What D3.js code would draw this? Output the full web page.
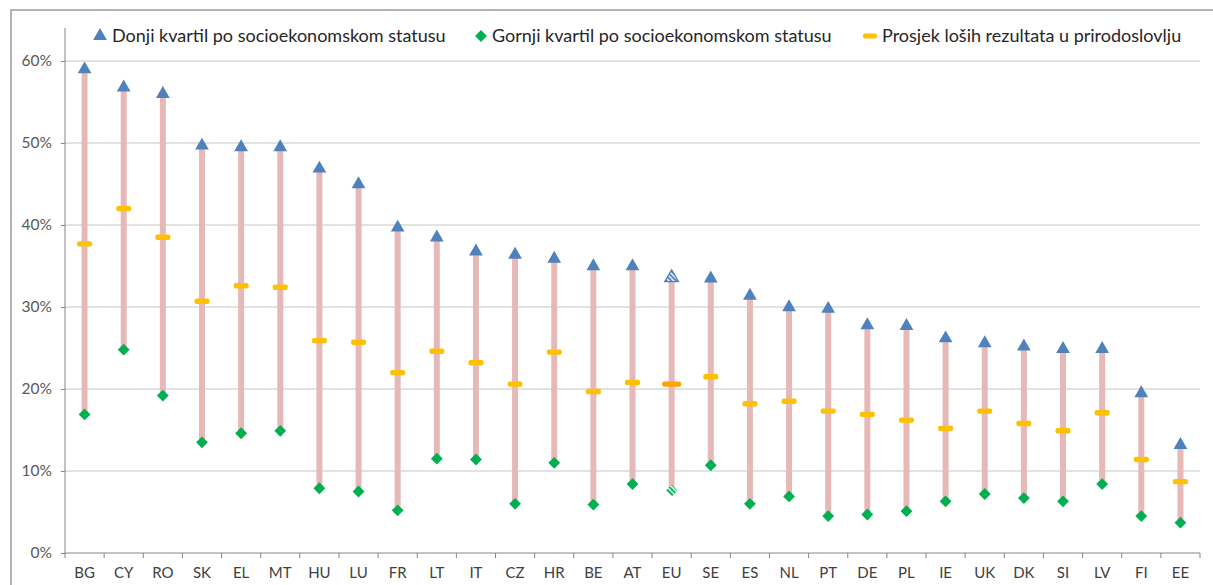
<!DOCTYPE html>
<html>
<head>
<meta charset="utf-8">
<script src="https://cdn.jsdelivr.net/npm/d3@7"></script>
<style>
  body { margin: 0; background: #fff; }
  svg { font-family: Lato, "Liberation Sans", sans-serif; }
</style>
</head>
<body>
<div class="chart"></div>
<script>
// countries, sorted as in the source
var countries = ["BG","CY","RO","SK","EL","MT","HU","LU","FR","LT","IT","CZ","HR","BE","AT","EU","SE","ES","NL","PT","DE","PL","IE","UK","DK","SI","LV","FI","EE"];
// Donji kvartil po socioekonomskom statusu (%)
var lowerQuartile = [59.1,56.9,56.1,49.8,49.6,49.6,47.0,45.1,39.8,38.6,36.9,36.5,36.0,35.1,35.1,33.7,33.6,31.5,30.1,29.9,27.9,27.8,26.3,25.7,25.3,25.0,25.0,19.6,13.3];
// Gornji kvartil po socioekonomskom statusu (%)
var upperQuartile = [16.9,24.8,19.2,13.5,14.6,14.9,7.9,7.5,5.2,11.5,11.4,6.0,11.0,5.9,8.4,7.6,10.7,6.0,6.9,4.5,4.7,5.1,6.3,7.2,6.7,6.3,8.4,4.5,3.7];
// Prosjek loših rezultata u prirodoslovlju (%)
var average = [37.7,42.0,38.5,30.7,32.6,32.4,25.9,25.7,22.0,24.6,23.2,20.6,24.5,19.7,20.8,20.6,21.5,18.2,18.5,17.3,16.9,16.2,15.2,17.3,15.8,14.9,17.1,11.4,8.7];
var yTicks = [0,10,20,30,40,50,60];
var legendLabels = ["Donji kvartil po socioekonomskom statusu","Gornji kvartil po socioekonomskom statusu","Prosjek loših rezultata u prirodoslovlju"];

var width = 1213, height = 585;
var blue = "#4f81bd", green = "#00b050", yellow = "#ffc000", pink = "#e6b9b8";

var svg = d3.select(".chart").append("svg")
  .attr("width", width)
  .attr("height", height);

// patterns for the EU markers
var defs = svg.append("defs");
function stripes(id, color, angle) {
  var p = defs.append("pattern")
    .attr("id", id)
    .attr("patternUnits", "userSpaceOnUse")
    .attr("width", 3.4).attr("height", 3.4)
    .attr("patternTransform", "rotate(" + angle + ")");
  p.append("rect").attr("width", 3.4).attr("height", 3.4).attr("fill", "#fff");
  p.append("rect").attr("width", 2).attr("height", 3.4).attr("fill", color);
}
stripes("hatchBlue", blue, -45);
stripes("hatchGreen", green, -90); // diamond path is already rotated 45

// outer frame
svg.append("rect")
  .attr("x", 11).attr("y", 10)
  .attr("width", 1300).attr("height", 700)
  .attr("fill", "none")
  .attr("stroke", "#9a9a9a")
  .attr("stroke-width", 1.5);

var x = d3.scaleBand()
  .domain(countries)
  .range([65, 1200]);

var y = d3.scaleLinear()
  .domain([0, 60])
  .range([553, 61]);

// gridlines
svg.append("g")
  .selectAll("line")
  .data(yTicks.filter(function (d) { return d > 0; }))
  .enter()
  .append("line")
  .attr("x1", 65).attr("x2", 1200)
  .attr("y1", function (d) { return y(d); })
  .attr("y2", function (d) { return y(d); })
  .attr("stroke", "#d9d9d9")
  .attr("stroke-width", 1.3);

// y axis
var yAxis = svg.append("g")
  .attr("transform", "translate(65,0)")
  .call(d3.axisLeft(y).tickValues(yTicks).tickSize(4).tickPadding(9).tickFormat(function (d) { return d + "%"; }));
yAxis.select(".domain").attr("stroke", "#868686").attr("d", "M0,28V553");
yAxis.selectAll(".tick line").attr("stroke", "#868686");
yAxis.selectAll("text").attr("font-size", "15.5px").attr("fill", "#595959").attr("font-family", "Lato, sans-serif");

// x axis
var xAxis = svg.append("g")
  .attr("transform", "translate(0,553)")
  .call(d3.axisBottom(x).tickSize(0).tickPadding(14));
xAxis.select(".domain").attr("stroke", "#868686").attr("d", "M65,0H1200");
xAxis.selectAll("text").attr("font-size", "15px").attr("fill", "#404040").attr("font-family", "Lato, sans-serif");

// boundary ticks between categories
xAxis.selectAll(".bound")
  .data(countries.concat(["end"]))
  .enter()
  .append("line")
  .attr("x1", function (d) { return d === "end" ? x.range()[1] : x(d); })
  .attr("x2", function (d) { return d === "end" ? x.range()[1] : x(d); })
  .attr("y1", 0).attr("y2", 5)
  .attr("stroke", "#868686");

var rows = countries.map(function (c, i) {
  return { c: c, low: lowerQuartile[i], up: upperQuartile[i], avg: average[i] };
});
var cx = function (d) { return x(d.c) + x.bandwidth() / 2; };

// range bars
svg.append("g")
  .selectAll("rect")
  .data(rows)
  .enter()
  .append("rect")
  .attr("x", function (d) { return cx(d) - 3; })
  .attr("width", 6)
  .attr("y", function (d) { return y(d.low); })
  .attr("height", function (d) { return y(d.up) - y(d.low); })
  .attr("fill", pink);

// averages
svg.append("g")
  .selectAll("rect")
  .data(rows)
  .enter()
  .append("rect")
  .attr("x", function (d) { return cx(d) - (d.c === "EU" ? 9.5 : 7.5); })
  .attr("width", function (d) { return d.c === "EU" ? 19 : 15; })
  .attr("y", function (d) { return y(d.avg) - 2.7; })
  .attr("height", 5.4)
  .attr("rx", 2)
  .attr("fill", function (d) { return d.c === "EU" ? "#ffa200" : yellow; });

var tri = d3.symbol().type(d3.symbolTriangle).size(82);
var dia = d3.symbol().type(d3.symbolSquare).size(70);

// upper quartile diamonds
svg.append("g")
  .selectAll("path")
  .data(rows)
  .enter()
  .append("path")
  .attr("d", dia)
  .attr("transform", function (d) { return "translate(" + cx(d) + "," + y(d.up) + ") rotate(45)"; })
  .attr("fill", function (d) { return d.c === "EU" ? "url(#hatchGreen)" : green; });

// lower quartile triangles
svg.append("g")
  .selectAll("path")
  .data(rows)
  .enter()
  .append("path")
  .attr("d", tri)
  .attr("transform", function (d) { return "translate(" + cx(d) + "," + (y(d.low) + 1) + ")"; })
  .attr("fill", function (d) { return d.c === "EU" ? "url(#hatchBlue)" : blue; })
  .attr("stroke", function (d) { return d.c === "EU" ? blue : "none"; })
  .attr("stroke-width", 1.3);

// legend
var legend = svg.append("g").attr("font-size", "18px").attr("fill", "#262626");
legend.append("path").attr("d", tri).attr("transform", "translate(100,36)").attr("fill", blue);
legend.append("text").attr("x", 112).attr("y", 41.5).text(legendLabels[0]);
legend.append("path").attr("d", dia).attr("transform", "translate(481,36) rotate(45)").attr("fill", green);
legend.append("text").attr("x", 492).attr("y", 41.5).text(legendLabels[1]);
legend.append("rect").attr("x", 863).attr("y", 33.5).attr("width", 14).attr("height", 5).attr("rx", 2).attr("fill", yellow);
legend.append("text").attr("x", 882).attr("y", 41.5).text(legendLabels[2]);
</script>
</body>
</html>
